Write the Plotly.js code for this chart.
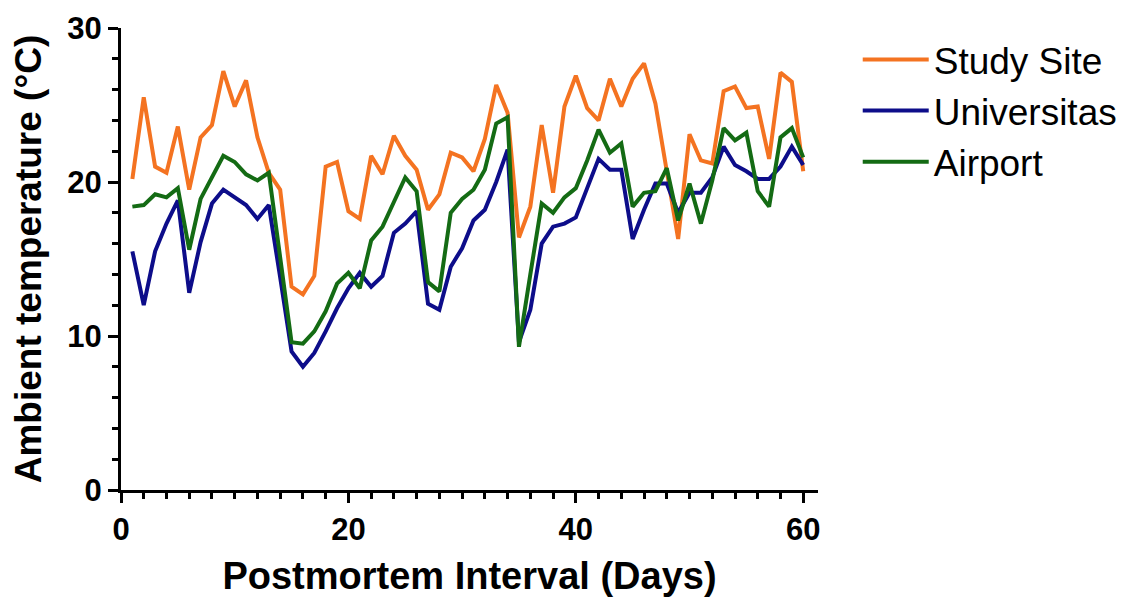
<!DOCTYPE html>
<html>
<head>
<meta charset="utf-8">
<script src="https://cdn.plot.ly/plotly-3.0.1.min.js"></script>
<style>html,body{margin:0;padding:0;background:#fff;}#chart{width:1134px;height:604px;}</style>
</head>
<body>
<div id="chart"></div>
<script>
const days = Array.from({length: 60}, (_, i) => i + 1);

const studySite = [20.2, 25.5, 21.0, 20.6, 23.6, 19.5, 22.9, 23.7, 27.2, 24.9,
  26.6, 22.9, 20.6, 19.5, 13.2, 12.7, 13.9, 21.0, 21.3, 18.1,
  17.6, 21.7, 20.5, 23.0, 21.7, 20.8, 18.2, 19.2, 21.9, 21.6,
  20.7, 22.8, 26.3, 24.5, 16.4, 18.4, 23.7, 19.3, 24.9, 26.9,
  24.8, 24.0, 26.7, 24.9, 26.7, 27.7, 25.1, 20.7, 16.3, 23.1,
  21.4, 21.2, 25.9, 26.2, 24.8, 24.9, 21.5, 27.1, 26.5, 20.7];

const universitas = [15.5, 12.0, 15.5, 17.3, 18.8, 12.8, 16.1, 18.6, 19.5, 19.0,
  18.5, 17.6, 18.5, 13.8, 9.0, 8.0, 8.9, 10.3, 11.8, 13.1,
  14.1, 13.2, 13.9, 16.7, 17.3, 18.1, 12.1, 11.7, 14.5, 15.7,
  17.5, 18.2, 20.0, 22.1, 9.6, 11.7, 16.0, 17.1, 17.3, 17.7,
  19.6, 21.5, 20.8, 20.8, 16.3, 18.2, 19.9, 19.9, 18.0, 19.3,
  19.3, 20.3, 22.3, 21.1, 20.7, 20.2, 20.2, 21.0, 22.3, 21.1];

const airport = [18.4, 18.5, 19.2, 19.0, 19.6, 15.6, 18.9, 20.3, 21.7, 21.3,
  20.5, 20.1, 20.6, 15.1, 9.6, 9.5, 10.3, 11.6, 13.4, 14.1,
  13.1, 16.2, 17.1, 18.7, 20.3, 19.4, 13.5, 12.9, 18.0, 18.9,
  19.5, 20.8, 23.8, 24.2, 9.3, 14.0, 18.6, 18.0, 19.0, 19.6,
  21.4, 23.4, 21.9, 22.5, 18.4, 19.3, 19.4, 20.9, 17.5, 19.9,
  17.3, 20.1, 23.5, 22.7, 23.2, 19.4, 18.4, 22.9, 23.5, 21.6];

const seriesNames = ["Study Site", "Universitas", "Airport"];
const seriesColors = ["#f47321", "#0d0d8a", "#146b14"];
const seriesData = [studySite, universitas, airport];

const xTickVals = [0, 20, 40, 60];
const yTickVals = [0, 10, 20, 30];

const FONT = "'Liberation Sans', Arial, sans-serif";

const traces = seriesData.map((ys, i) => ({
  x: days, y: ys, type: "scatter", mode: "lines",
  name: seriesNames[i],
  line: {color: seriesColors[i], width: 4}
}));

const axisCommon = {
  showgrid: false, zeroline: false, showline: true,
  linecolor: "#000", linewidth: 3,
  ticks: "outside", ticklen: 10, tickwidth: 3, tickcolor: "#000",
  tickfont: {family: FONT, size: 31, color: "#000", weight: "bold"},
  minor: {ticks: "outside", ticklen: 6, tickwidth: 3, tickcolor: "#000", dtick: 2, showgrid: false},
  fixedrange: true
};

const layout = {
  width: 1134, height: 604,
  margin: {l: 121, r: 311, t: 28, b: 114},
  paper_bgcolor: "#fff", plot_bgcolor: "#fff",
  showlegend: true,
  legend: {
    x: 1.057, y: 0.998, xanchor: "left", yanchor: "top",
    font: {family: FONT, size: 37, color: "#000"},
    tracegroupgap: 0, itemwidth: 66,
    bgcolor: "rgba(0,0,0,0)"
  },
  xaxis: Object.assign({}, axisCommon, {
    range: [0, 61.3],
    tickmode: "array", tickvals: xTickVals, ticktext: xTickVals.map(String),
    title: {text: "Postmortem Interval (Days)", font: {family: FONT, size: 38, color: "#000", weight: "bold"}, standoff: 17}
  }),
  yaxis: Object.assign({}, axisCommon, {
    range: [0, 30],
    tickmode: "array", tickvals: yTickVals, ticktext: yTickVals.map(String),
    title: {text: "Ambient temperature (°C)", font: {family: FONT, size: 37, color: "#000", weight: "bold"}, standoff: 15}
  })
};

Plotly.newPlot("chart", traces, layout, {displayModeBar: false, staticPlot: true});
</script>
</body>
</html>
